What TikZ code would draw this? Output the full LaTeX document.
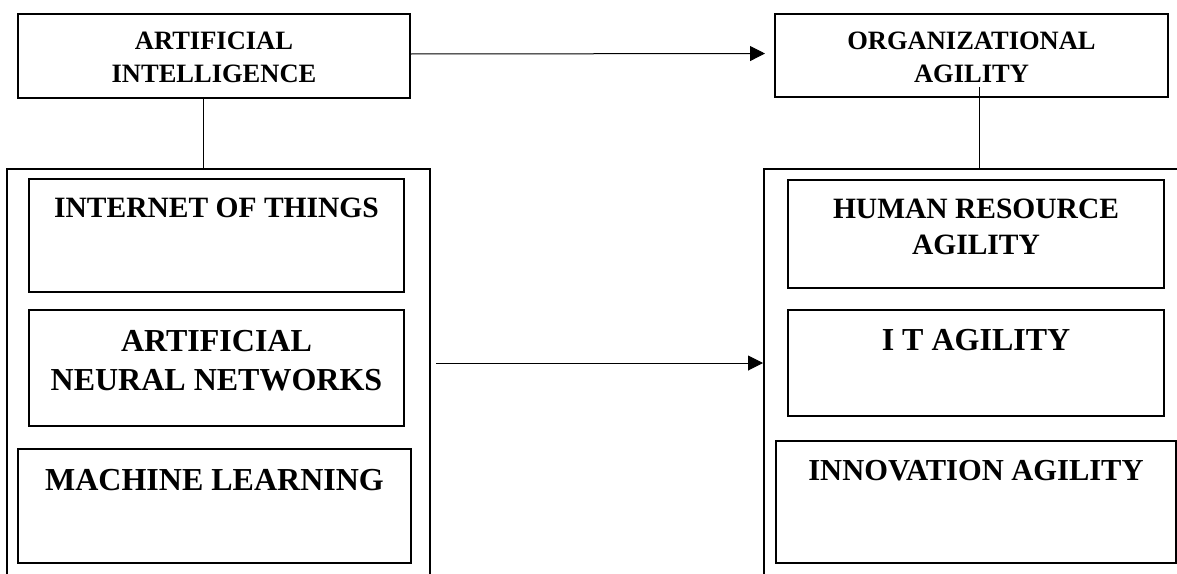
\documentclass[tikz,border=0pt]{standalone}
\usepackage{fontspec}
\setmainfont{Liberation Serif}
\usetikzlibrary{arrows.meta}

\tikzset{
  box/.style={draw, rectangle, line width=1.6pt, inner sep=0pt, outer sep=0pt},
  grp/.style={draw, rectangle, line width=1.4pt, inner sep=0pt, outer sep=0pt},
  txt/.style={anchor=north, inner sep=0pt, align=center},
  fsmall/.style={font=\fontsize{26.5}{33}\selectfont\bfseries},
  fmid/.style={font=\fontsize{29.5}{36}\selectfont\bfseries},
  fbig/.style={font=\fontsize{32}{39}\selectfont\bfseries},
  arr/.style={line width=1pt, -{Triangle[length=15pt, width=15pt]}},
  lnk/.style={line width=1pt}
}

\begin{document}
\begin{tikzpicture}[x=1pt, y=-1pt]
  \path[use as bounding box, clip] (0,0) rectangle (1177,573);

  % top boxes
  \node[box, minimum width=392pt, minimum height=84pt,
    label={[txt, fsmall, yshift=-18pt]north:ARTIFICIAL\\INTELLIGENCE}] (ai) at (214, 56) {};
  \node[box, minimum width=393pt, minimum height=83pt,
    label={[txt, fsmall, yshift=-18pt]north:ORGANIZATIONAL\\AGILITY}] (oa) at (971.5, 55.5) {};

  % groups
  \node[grp, minimum width=423pt, minimum height=451pt] (aig) at (218.5, 394.5) {};
  \node[grp, minimum width=436pt, minimum height=451pt] (oag) at (982, 394.5) {};

  \node[box, minimum width=375pt, minimum height=113pt,
    label={[txt, fmid, yshift=-19pt]north:INTERNET OF THINGS}] (iot) at (216.5, 235.5) {};
  \node[box, minimum width=375pt, minimum height=116pt,
    label={[txt, fbig, yshift=-20pt]north:ARTIFICIAL\\NEURAL NETWORKS}] (ann) at (216.5, 368) {};
  \node[box, minimum width=393pt, minimum height=114pt,
    label={[txt, fbig, yshift=-20pt]north:MACHINE LEARNING}] (ml) at (214.5, 506) {};

  \node[box, minimum width=376pt, minimum height=108pt,
    label={[txt, fmid, yshift=-19pt]north:HUMAN RESOURCE\\AGILITY}] (hr) at (976, 234) {};
  \node[box, minimum width=376pt, minimum height=106pt,
    label={[txt, fbig, yshift=-19pt]north:I T AGILITY}] (it) at (976, 363) {};
  \node[box, minimum width=400pt, minimum height=122pt,
    label={[txt, font=\fontsize{30.5}{37}\selectfont\bfseries, yshift=-19pt]north:INNOVATION AGILITY}] (inn) at (976, 502) {};

  \coordinate (mid) at (0, 363);

  \draw[arr, shorten >=10pt] ([yshift=2pt]ai.east) -- ([yshift=2pt]oa.west);
  \draw[arr, shorten <=6pt, shorten >=1pt] (aig.east |- mid) -- (oag.west |- mid);
  \draw[lnk] ([xshift=-11pt]ai.south) -- ([xshift=-11pt]ai.south |- aig.north);
  \draw[lnk] ([shift={(7.5pt,10pt)}]oa.south) -- ([xshift=7.5pt]oa.south |- oag.north);
\end{tikzpicture}
\end{document}
